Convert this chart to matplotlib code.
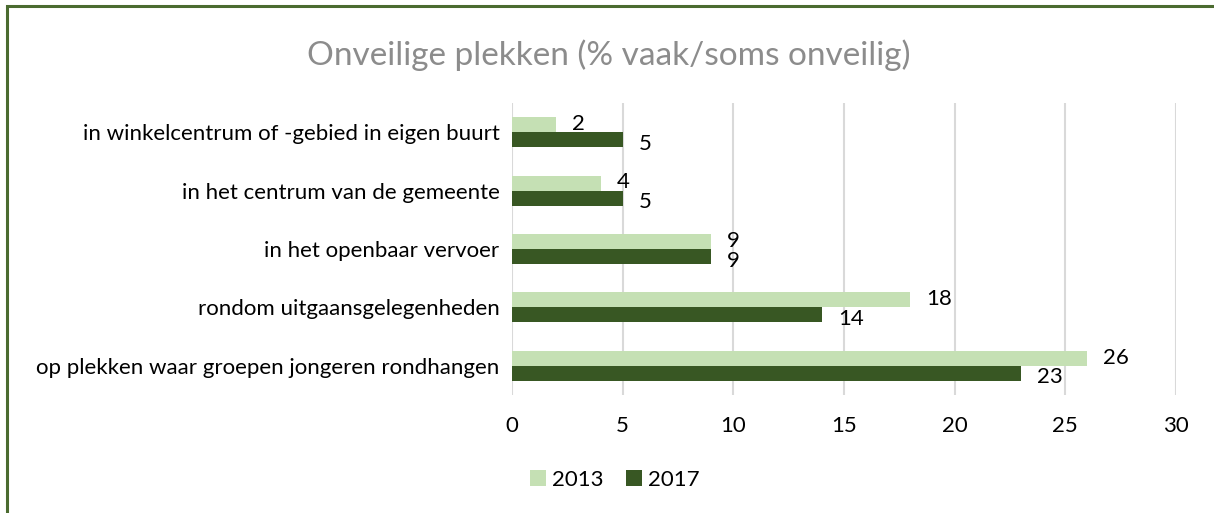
import matplotlib
matplotlib.use("Agg")
import matplotlib.pyplot as plt
from matplotlib.patches import Rectangle
import numpy as np

plt.rcParams['font.family'] = ['Lato', 'DejaVu Sans']

categories = [
    "in winkelcentrum of -gebied in eigen buurt",
    "in het centrum van de gemeente",
    "in het openbaar vervoer",
    "rondom uitgaansgelegenheden",
    "op plekken waar groepen jongeren rondhangen",
]
series_names = ["2013", "2017"]
values_2013 = [2, 4, 9, 18, 26]
values_2017 = [5, 5, 9, 14, 23]
xticks = [0, 5, 10, 15, 20, 25, 30]
title = "Onveilige plekken (% vaak/soms onveilig)"

c_light = "#c5e0b4"
c_dark = "#385723"
fs = 16

W, H = 1214, 513
fig = plt.figure(figsize=(W / 100, H / 100), dpi=100)
ax = fig.add_axes([512 / W, (H - 395) / H, (1176 - 512) / W, 292 / H])

y = np.arange(len(categories))
bh = 0.256
b1 = ax.barh(y - bh / 2, values_2013, height=bh, color=c_light, label=series_names[0], zorder=3)
b2 = ax.barh(y + bh / 2, values_2017, height=bh, color=c_dark, label=series_names[1], zorder=3)

for yy, v in zip(y - bh / 2, values_2013):
    ax.annotate(str(v), (v, yy), xytext=(11.5, 0.5), textcoords="offset points",
                ha="left", va="center", fontsize=fs, color="#000000")
for yy, v in zip(y + bh / 2, values_2017):
    ax.annotate(str(v), (v, yy), xytext=(11.5, -3), textcoords="offset points",
                ha="left", va="center", fontsize=fs, color="#000000")

ax.set_xlim(0, 30)
ax.set_ylim(len(categories) - 0.5, -0.5)
ax.set_xticks(xticks)
ax.set_xticklabels([str(t) for t in xticks])
ax.set_yticks(y)
ax.set_yticklabels(categories)
ax.tick_params(axis="both", length=0, labelsize=fs, colors="#000000")
ax.tick_params(axis="x", pad=15)
ax.tick_params(axis="y", pad=9)
for s in ax.spines.values():
    s.set_visible(False)
ax.grid(axis="x", color="#d9d9d9", linewidth=1.5, zorder=0)
ax.set_axisbelow(True)

fig.text(609 / W, 1 - 55 / H, title, ha="center", va="center", fontsize=24, color="#8c8c8c")

fig.legend(handles=[b1, b2], labels=series_names, loc="center",
           bbox_to_anchor=(615 / W, 1 - 480 / H), ncol=2, frameon=False,
           fontsize=fs, handlelength=0.7, handleheight=0.7, handletextpad=0.3,
           columnspacing=1.0)

fig.add_artist(Rectangle((7 / W, -0.05), 1.1, 1 - 6 / H + 0.05, transform=fig.transFigure,
                         fill=False, edgecolor="#4b6b30", linewidth=2.2))

fig.savefig("out.png", dpi=100)
